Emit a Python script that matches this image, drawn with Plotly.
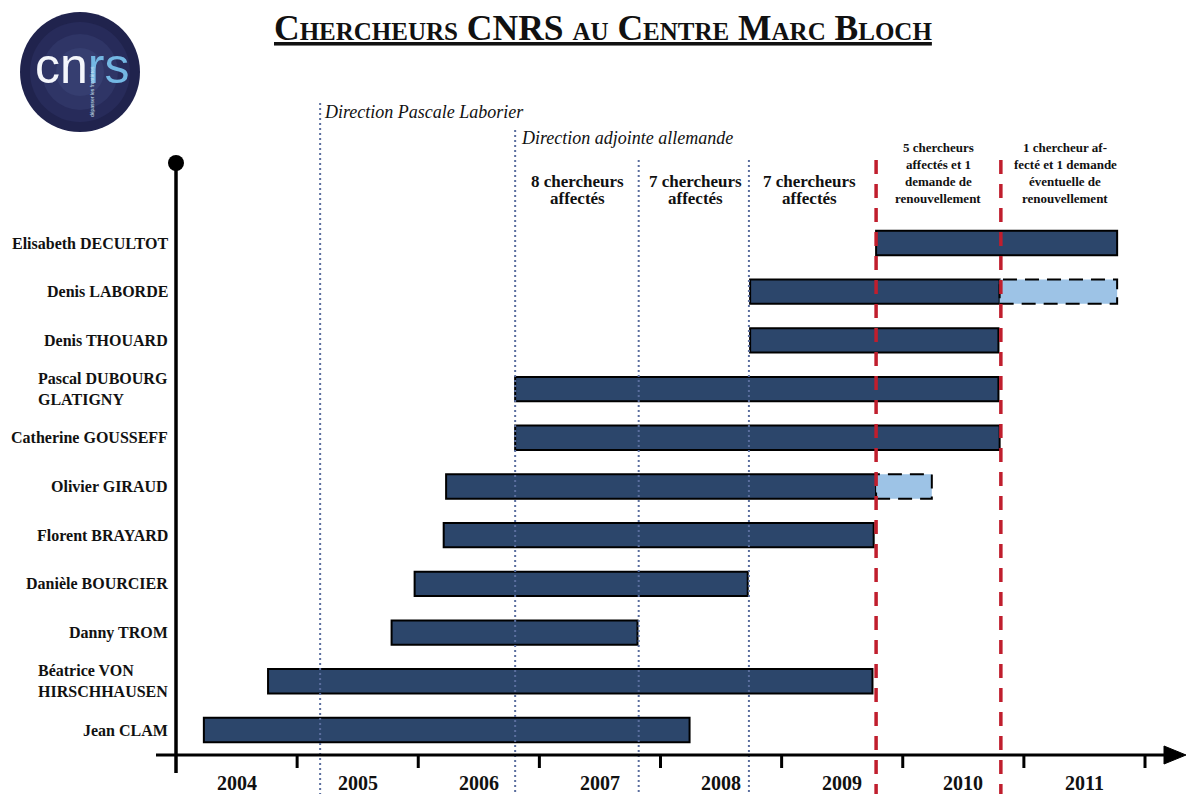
import plotly.graph_objects as go

# ---------------- data ----------------
names = ["Jean CLAM", "Béatrice VON<br>HIRSCHHAUSEN", "Danny TROM", "Danièle BOURCIER",
         "Florent BRAYARD", "Olivier GIRAUD", "Catherine GOUSSEFF",
         "Pascal DUBOURG<br>GLATIGNY", "Denis THOUARD", "Denis LABORDE",
         "Elisabeth DECULTOT"]
start = [2004.23, 2004.76, 2005.78, 2005.97, 2006.21, 2006.23, 2006.80, 2006.80,
         2008.74, 2008.74, 2009.78]
end = [2008.24, 2009.75, 2007.81, 2008.72, 2009.76, 2009.78, 2010.80, 2010.79,
       2010.79, 2010.80, 2011.77]

renew_names = ["Olivier GIRAUD", "Denis LABORDE"]
renew_start = [2009.78, 2010.80]
renew_end = [2010.24, 2011.77]

years = [2004, 2005, 2006, 2007, 2008, 2009, 2010, 2011]
direction_lines = [2005.19, 2006.80, 2007.82, 2008.73]
renewal_lines = [2009.78, 2010.81]

# ---------------- geometry helpers (pixel <-> data) ----------------
W, H = 1186, 794
X0PX, PXY = 176, 121.125          # pixel of 2004, pixels per year
Y0PX, PXR = 730, 48.7             # pixel of first row, pixels per row


def xv(p):
    return 2004 + (p - X0PX) / PXY


def yv(p):
    return (Y0PX - p) / PXR


def px(p):
    return p / W


def py(p):
    return 1 - p / H


rows = list(range(len(names)))
row_of = {n: i for i, n in enumerate(names)}

NAVY = "#2c466b"
LIGHT = "#9dc3e6"
RED = "#c01e2d"
DOTBLUE = "#5b6e9e"
SERIF = "Liberation Serif, Times New Roman, serif"

fig = go.Figure()

# main bars
fig.add_trace(go.Bar(
    y=rows, x=[e - s for s, e in zip(start, end)], base=start, orientation="h",
    width=0.5, marker=dict(color=NAVY, line=dict(color="black", width=2)),
    hoverinfo="skip", showlegend=False))

# renewal (pending) bars
r_rows = [row_of[n] for n in renew_names]
fig.add_trace(go.Bar(
    y=r_rows, x=[e - s for s, e in zip(renew_start, renew_end)], base=renew_start,
    orientation="h", width=0.5, marker=dict(color=LIGHT, line=dict(width=0)),
    hoverinfo="skip", showlegend=False))
for r, s, e in zip(r_rows, renew_start, renew_end):
    fig.add_trace(go.Scatter(
        x=[s, e, e, s, s], y=[r - 0.25, r - 0.25, r + 0.25, r + 0.25, r - 0.25],
        mode="lines", line=dict(color="black", width=2, dash="14px,8px"),
        hoverinfo="skip", showlegend=False))

shapes = []
# blue dotted period lines
tops = [yv(103), yv(130), yv(160), yv(160)]
for xl, t in zip(direction_lines, tops):
    shapes.append(dict(type="line", xref="x", yref="y", x0=xl, x1=xl, y0=t, y1=yv(800),
                       line=dict(color=DOTBLUE, width=2, dash="2px,3px"), layer="above"))
# red dashed renewal lines
for xl in renewal_lines:
    shapes.append(dict(type="line", xref="x", yref="y", x0=xl, x1=xl, y0=yv(160), y1=yv(800),
                       line=dict(color=RED, width=3.5, dash="14px,10px"), layer="above"))

# axes drawn by hand
ax_y = yv(755)
shapes.append(dict(type="line", xref="x", yref="y", x0=xv(156), x1=xv(1172), y0=ax_y, y1=ax_y,
                   line=dict(color="black", width=3), layer="above"))
shapes.append(dict(type="path", xref="x", yref="y",
                   path=f"M {xv(1164)},{yv(746)} L {xv(1186)},{ax_y} L {xv(1164)},{yv(764)} Z",
                   fillcolor="black", line=dict(color="black", width=1), layer="above"))
shapes.append(dict(type="line", xref="x", yref="y", x0=2004, x1=2004, y0=yv(773), y1=yv(163),
                   line=dict(color="black", width=3.5), layer="above"))
for yr in years[1:] + [2012]:
    shapes.append(dict(type="line", xref="x", yref="y", x0=yr, x1=yr, y0=ax_y, y1=yv(768),
                       line=dict(color="black", width=3), layer="above"))

# logo
for r, c in [(60, "#20234d"), (50, "#272b5a"), (38, "#2f3566"), (24, "#363e70")]:
    shapes.append(dict(type="circle", xref="paper", yref="paper",
                       x0=px(80 - r), x1=px(80 + r), y0=py(72 + r), y1=py(72 - r),
                       fillcolor=c, line=dict(width=0), layer="below"))

fig.add_trace(go.Scatter(x=[2004], y=[yv(163)], mode="markers",
                         marker=dict(color="black", size=16), hoverinfo="skip",
                         showlegend=False))

annotations = []
# title
annotations.append(dict(
    text="Chercheurs CNRS au Centre Marc Bloch", xref="paper", yref="paper",
    x=px(603), y=py(28), xanchor="center", yanchor="middle", showarrow=False,
    font=dict(family=SERIF, size=35.5, color="#111", weight="bold",
              variant="small-caps", lineposition="under")))

# logo text
annotations.append(dict(
    text="cn<span style='color:#74b8e4'>rs</span>", xref="paper", yref="paper",
    x=px(82), y=py(66), xanchor="center", yanchor="middle", showarrow=False,
    font=dict(family="Liberation Sans Narrow, Liberation Sans, Arial", size=50,
              color="#f4f6fb")))
annotations.append(dict(
    text="dépasser les frontières", xref="paper", yref="paper", textangle=-90,
    x=px(92), y=py(92), xanchor="center", yanchor="middle", showarrow=False,
    font=dict(family="Liberation Sans, Arial", size=5, color="#cfe3f3")))

# names
for i, n in enumerate(names):
    annotations.append(dict(
        text=n, x=2004, y=i, xref="x", yref="y", xanchor="right", yanchor="middle",
        xshift=-6, align="left", showarrow=False,
        font=dict(family=SERIF, size=16, color="#111", weight="bold")))

# year labels
for yr in years:
    annotations.append(dict(
        text=str(yr), x=yr + 0.5, y=yv(783), xref="x", yref="y", xanchor="center",
        yanchor="middle", showarrow=False,
        font=dict(family=SERIF, size=20, color="#111", weight="bold")))

# direction labels
annotations.append(dict(
    text="Direction Pascale Laborier", xref="paper", yref="paper", x=px(322), y=py(112),
    xanchor="left", yanchor="middle", showarrow=False,
    font=dict(family=SERIF, size=18, color="#111", style="italic")))
annotations.append(dict(
    text="Direction adjointe allemande", xref="paper", yref="paper", x=px(519), y=py(138),
    xanchor="left", yanchor="middle", showarrow=False,
    font=dict(family=SERIF, size=18, color="#111", style="italic")))

# period headers
big_headers = [(577, ["8 chercheurs", "affectés"]),
               (695, ["7 chercheurs", "affectés"]),
               (809, ["7 chercheurs", "affectés"])]
for cx, lines in big_headers:
    for k, t in enumerate(lines):
        annotations.append(dict(
            text=t, xref="paper", yref="paper", x=px(cx), y=py(181 + 18 * k),
            xanchor="center", yanchor="middle", showarrow=False,
            font=dict(family=SERIF, size=17, color="#111", weight="bold")))
small_headers = [(938, ["5 chercheurs", "affectés et 1", "demande de", "renouvellement"]),
                 (1065, ["1 chercheur af-", "fecté et 1 demande", "éventuelle de",
                         "renouvellement"])]
for cx, lines in small_headers:
    for k, t in enumerate(lines):
        annotations.append(dict(
            text=t, xref="paper", yref="paper", x=px(cx), y=py(147 + 17 * k),
            xanchor="center", yanchor="middle", showarrow=False,
            font=dict(family=SERIF, size=13, color="#111", weight="bold")))

fig.update_layout(
    width=W, height=H, margin=dict(l=0, r=0, t=0, b=0),
    paper_bgcolor="white", plot_bgcolor="white", barmode="overlay",
    showlegend=False, shapes=shapes, annotations=annotations,
    xaxis=dict(visible=False, range=[xv(0), xv(W)], fixedrange=True),
    yaxis=dict(visible=False, range=[yv(H), yv(0)], fixedrange=True),
)

fig.write_html("out.html", config={"displayModeBar": False},
               post_script="document.body.style.margin='0px';"
                           "document.body.style.overflow='hidden';")
